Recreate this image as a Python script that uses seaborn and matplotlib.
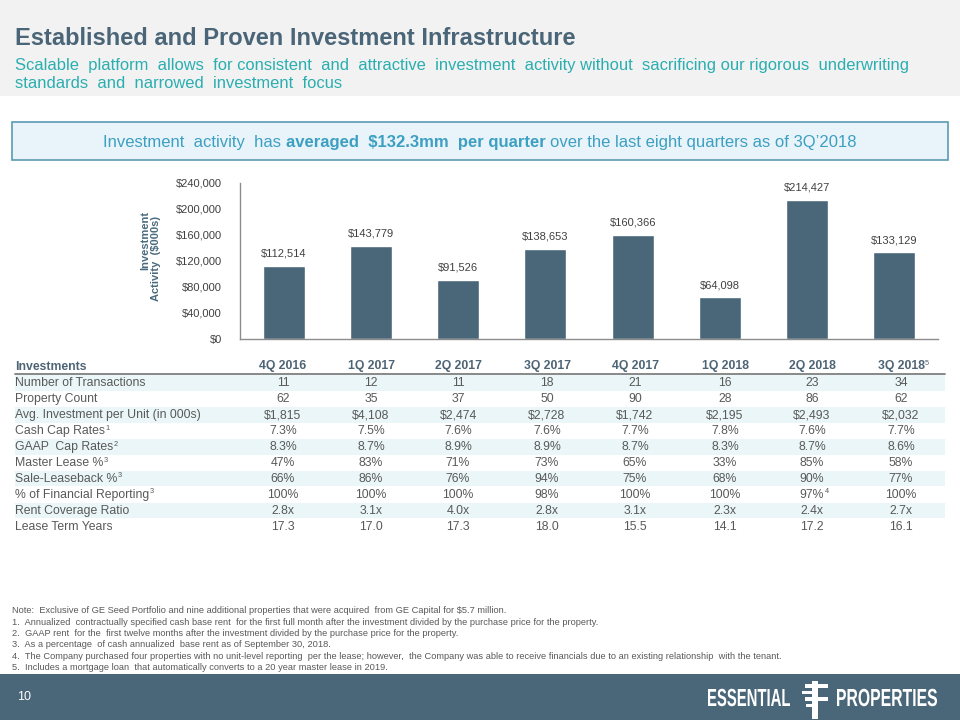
import seaborn as sns
import matplotlib.pyplot as plt
from matplotlib.patches import Rectangle, PathPatch
from matplotlib.textpath import TextPath
from matplotlib.font_manager import FontProperties
from matplotlib.transforms import Affine2D
from matplotlib.ticker import FuncFormatter

# chart data
quarters = ['4Q 2016', '1Q 2017', '2Q 2017', '3Q 2017', '4Q 2017', '1Q 2018', '2Q 2018', '3Q 2018']
investment = [112514, 143779, 91526, 138653, 160366, 64098, 214427, 133129]

# table data
row_labels = ['Number of Transactions', 'Property Count', 'Avg. Investment per Unit (in 000s)',
              'Cash Cap Rates', 'GAAP  Cap Rates', 'Master Lease %', 'Sale-Leaseback %',
              '% of Financial Reporting', 'Rent Coverage Ratio', 'Lease Term Years']
row_sups = ['', '', '', '1', '2', '3', '3', '3', '', '']
n_transactions = ['11', '12', '11', '18', '21', '16', '23', '34']
property_count = ['62', '35', '37', '50', '90', '28', '86', '62']
avg_investment = ['$1,815', '$4,108', '$2,474', '$2,728', '$1,742', '$2,195', '$2,493', '$2,032']
cash_cap = ['7.3%', '7.5%', '7.6%', '7.6%', '7.7%', '7.8%', '7.6%', '7.7%']
gaap_cap = ['8.3%', '8.7%', '8.9%', '8.9%', '8.7%', '8.3%', '8.7%', '8.6%']
master_lease = ['47%', '83%', '71%', '73%', '65%', '33%', '85%', '58%']
sale_leaseback = ['66%', '86%', '76%', '94%', '75%', '68%', '90%', '77%']
fin_reporting = ['100%', '100%', '100%', '98%', '100%', '100%', '97%', '100%']
fin_reporting_sups = ['', '', '', '', '', '', '4', '']
rent_coverage = ['2.8x', '3.1x', '4.0x', '2.8x', '3.1x', '2.3x', '2.4x', '2.7x']
lease_term = ['17.3', '17.0', '17.3', '18.0', '15.5', '14.1', '17.2', '16.1']
header_sups = ['', '', '', '', '', '', '', '5']

footnotes = [
    'Note:  Exclusive of GE Seed Portfolio and nine additional properties that were acquired  from GE Capital for $5.7 million.',
    '1.  Annualized  contractually specified cash base rent  for the first full month after the investment divided by the purchase price for the property.',
    '2.  GAAP rent  for the  first twelve months after the investment divided by the purchase price for the property.',
    '3.  As a percentage  of cash annualized  base rent as of September 30, 2018.',
    '4.  The Company purchased four properties with no unit-level reporting  per the lease; however,  the Company was able to receive financials due to an existing relationship  with the tenant.',
    '5.  Includes a mortgage loan  that automatically converts to a 20 year master lease in 2019.',
]

SLATE = '#4a6779'
TEAL = '#2aaeb0'
GREY_TXT = '#595959'

sns.set_theme(style='white')
plt.rcParams['font.family'] = ['Liberation Sans', 'DejaVu Sans']

fig = plt.figure(figsize=(9.6, 7.2), dpi=100)
fig.patch.set_facecolor('white')

# background layer in pixel coordinates
bg = fig.add_axes([0, 0, 1, 1])
bg.set_xlim(0, 960)
bg.set_ylim(720, 0)
bg.axis('off')
renderer = fig.canvas.get_renderer()


def text_width(s, **kw):
    t = bg.text(0, 0, s, **kw)
    w = t.get_window_extent(renderer).width
    t.remove()
    return w


def text_sup(x, y, s, sup, ha='left', size=8, color=GREY_TXT, weight='normal'):
    t = bg.text(x, y, s, ha=ha, va='baseline', fontsize=size, color=color, weight=weight)
    if sup:
        w = text_width(s, fontsize=size, weight=weight)
        x_end = x + w if ha == 'left' else x + w / 2
        bg.text(x_end + 0.5, y - 4.5, sup, ha='left', va='baseline', fontsize=size * 0.6,
                color=color, weight='normal')
    return t


def squeezed_text(s, x_left, x_right, baseline, cap_height, color='white'):
    # condensed bold lettering: fit a text path into the given box
    prop = FontProperties(family='Liberation Sans', weight='bold')
    path = TextPath((0, 0), s, size=20, prop=prop)
    ext = path.get_extents()
    cap = TextPath((0, 0), 'E', size=20, prop=prop).get_extents().y1
    tr = (Affine2D().translate(-ext.x0, 0)
          .scale((x_right - x_left) / ext.width, -cap_height / cap)
          .translate(x_left, baseline))
    bg.add_patch(PathPatch(tr.transform_path(path), facecolor=color, lw=0))


# header band
bg.add_patch(Rectangle((0, 0), 960, 96, color='#f2f2f2', lw=0))
bg.text(15, 45, 'Established and Proven Investment Infrastructure', fontsize=17, weight='bold',
        color='#4a6577', va='baseline')
bg.text(15, 70, 'Scalable  platform  allows  for consistent  and  attractive  investment  activity without  '
        'sacrificing our rigorous  underwriting', fontsize=11.9, color=TEAL, va='baseline')
bg.text(15, 88, 'standards  and  narrowed  investment  focus', fontsize=11.9, color=TEAL, va='baseline')

# callout box
bg.add_patch(Rectangle((12, 122), 936, 38, facecolor='#e8f4fa', edgecolor='#5b9ab3', lw=1.2))
callout_runs = [('Investment  activity  has', 'normal'),
                ('averaged  $132.3mm  per quarter', 'bold'),
                ('over the last eight quarters as of 3Q’2018', 'normal')]
call_size = 12
space = text_width('a a', fontsize=call_size) - text_width('aa', fontsize=call_size)
widths = [text_width(s, fontsize=call_size, weight=w) for s, w in callout_runs]
total = sum(widths) + space * (len(widths) - 1)
x = 480 - total / 2
for (s, w), wd in zip(callout_runs, widths):
    bg.text(x, 147, s, fontsize=call_size, weight=w, color='#3d9fc2', va='baseline')
    x += wd + space

# bar chart
ax = fig.add_axes([240 / 960, 1 - 339 / 720, 698 / 960, 156 / 720])
ax.patch.set_alpha(0)
sns.barplot(x=quarters, y=investment, color=SLATE, width=0.48, saturation=1, ax=ax)
ax.set_ylim(0, 240000)
ax.set_xlim(-0.5, 7.5)
ax.set_yticks(range(0, 240001, 40000))
ax.yaxis.set_major_formatter(FuncFormatter(lambda v, p: f'${v:,.0f}'))
ax.tick_params(axis='y', length=0, pad=13, labelsize=8, labelcolor='#404040')
ax.set_xticks([])
ax.set_xlabel('')
ax.set_ylabel('')
for side in ['top', 'right']:
    ax.spines[side].set_visible(False)
for side in ['left', 'bottom']:
    ax.spines[side].set_color('#8c8c8c')
    ax.spines[side].set_linewidth(1)
ax.bar_label(ax.containers[0], labels=[f'${v:,}' for v in investment], padding=5,
             fontsize=8, color='#404040')

bg.text(145, 211, 'Investment', rotation=90, ha='center', va='top', fontsize=8, weight='bold',
        color='#4a6a7d')
bg.text(156, 216, 'Activity  ($000s)', rotation=90, ha='center', va='top', fontsize=8, weight='bold',
        color='#4a6a7d')

# table
col_x = [283, 371, 458, 547, 635, 725, 812, 901]
header_y = 369.5
row_y0 = 386.5
row_step = 15.9
rows = [n_transactions, property_count, avg_investment, cash_cap, gaap_cap, master_lease,
        sale_leaseback, fin_reporting, rent_coverage, lease_term]

for i in range(0, len(rows), 2):
    y = row_y0 + row_step * i
    bg.add_patch(Rectangle((15, y - 11.2), 930, 15.7, color='#eaf6f7', lw=0))
bg.plot([15, 945], [374.3, 374.3], color='#7f7f7f', lw=1.3)

text_sup(15, header_y, 'Investments', '', size=8.8, color='#4d6475', weight='bold')
for q, cx, sp in zip(quarters, col_x, header_sups):
    text_sup(cx, header_y, q, sp, ha='center', size=8.8, color='#4d6475', weight='bold')

for i, (label, sp, vals) in enumerate(zip(row_labels, row_sups, rows)):
    y = row_y0 + row_step * i
    text_sup(15, y, label, sp, size=8.8)
    sups = fin_reporting_sups if vals is fin_reporting else [''] * len(vals)
    for v, cx, s in zip(vals, col_x, sups):
        text_sup(cx, y, v, s, ha='center', size=8.8)

# footnotes
for i, note in enumerate(footnotes):
    bg.text(12, 613.3 + 11.35 * i, note, fontsize=6.7, color=GREY_TXT, va='baseline')

# footer with logo
bg.add_patch(Rectangle((0, 674), 960, 46, color=SLATE, lw=0))
bg.text(17, 697, '10', fontsize=9, color='white', va='center')
squeezed_text('ESSENTIAL', 708, 790, 706, 17)
squeezed_text('PROPERTIES', 837, 937, 706, 17)
bg.add_patch(Rectangle((812, 681), 6, 38, color='white', lw=0))
for y0, x0, x1 in [(684, 805, 828), (690.5, 802, 818), (697, 805, 828), (703.5, 806, 818)]:
    bg.add_patch(Rectangle((x0, y0), x1 - x0, 3.5, color='white', lw=0))

fig.savefig('out.png', dpi=100, facecolor='white')
